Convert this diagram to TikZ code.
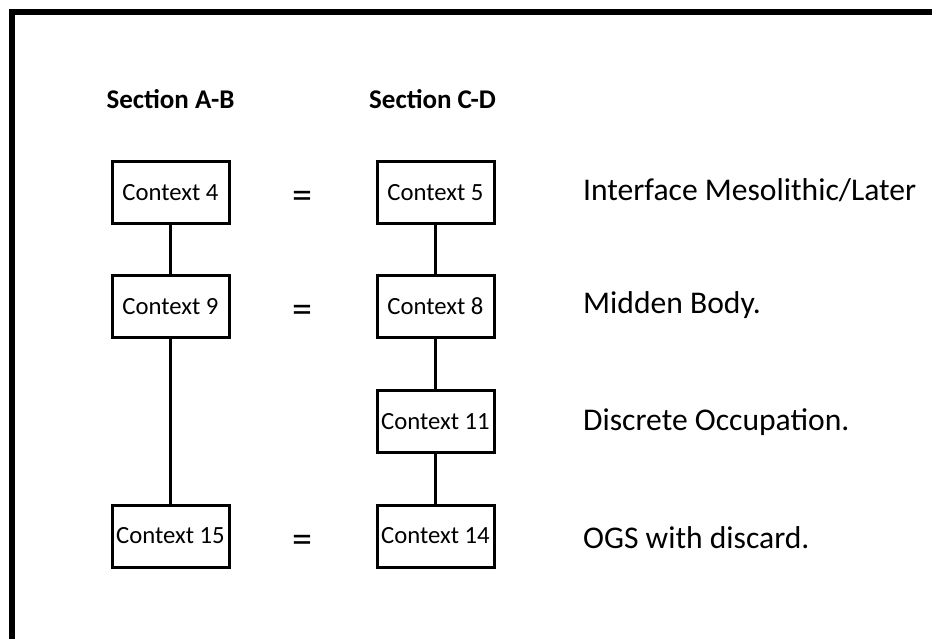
\documentclass[tikz,border=0pt]{standalone}
\usepackage{fontspec}
\setmainfont{Carlito}
\usetikzlibrary{positioning}

\begin{document}
\begin{tikzpicture}[
      x=1pt, y=-1pt,
      ctx/.style={draw, line width=3pt, minimum width=117pt, minimum height=62pt, inner sep=0pt, font=\fontsize{24.7}{28}\selectfont},
      head/.style={font=\fontsize{27}{32}\selectfont\bfseries},
      eqsign/.style={anchor=base, inner sep=0pt, font=\fontsize{40}{44}\selectfont},
      desc/.style={anchor=west, inner sep=0pt, font=\fontsize{31.6}{36}\selectfont},
      link/.style={line width=3pt}
    ]
      \useasboundingbox (0,0) rectangle (932,639);
      % frame
      \draw[line width=6pt] (11.7,639) -- (11.7,12) -- (932,12);
      \node[head] (ab) at (170.5,99) {Section A-B};
      \node[head] (cd) at (432.5,99) {Section C-D};
      \node[ctx] (c4) at (170.5,193) {Context 4};
      \node[ctx] (c9) at (170.5,306.5) {Context 9};
      \node[ctx] (c15) at (170.5,536) {Context 15};
      \node[ctx] (c5) at (435.5,193) {Context 5};
      \node[ctx] (c8) at (435.5,306.5) {Context 8};
      \node[ctx] (c11) at (435.5,421.5) {Context 11};
      \node[ctx] (c14) at (435.5,536) {Context 14};
      \node[eqsign] (eq1) at (302.5,209) {=};
      \node[eqsign] (eq2) at (302.5,322.5) {=};
      \node[eqsign] (eq3) at (302.5,552) {=};
      \node[desc] (d1) at (583,190) {Interface Mesolithic/Later};
      \node[desc] (d2) at (583,305) {Midden Body.};
      \node[desc] (d3) at (583,422) {Discrete Occupation.};
      \node[desc] (d4) at (583,538) {OGS with discard.};
      \draw[link] (c4) -- (c9);
      \draw[link] (c9) -- (c15);
      \draw[link] (c5) -- (c8);
      \draw[link] (c8) -- (c11);
      \draw[link] (c11) -- (c14);
    \end{tikzpicture}
\end{document}
